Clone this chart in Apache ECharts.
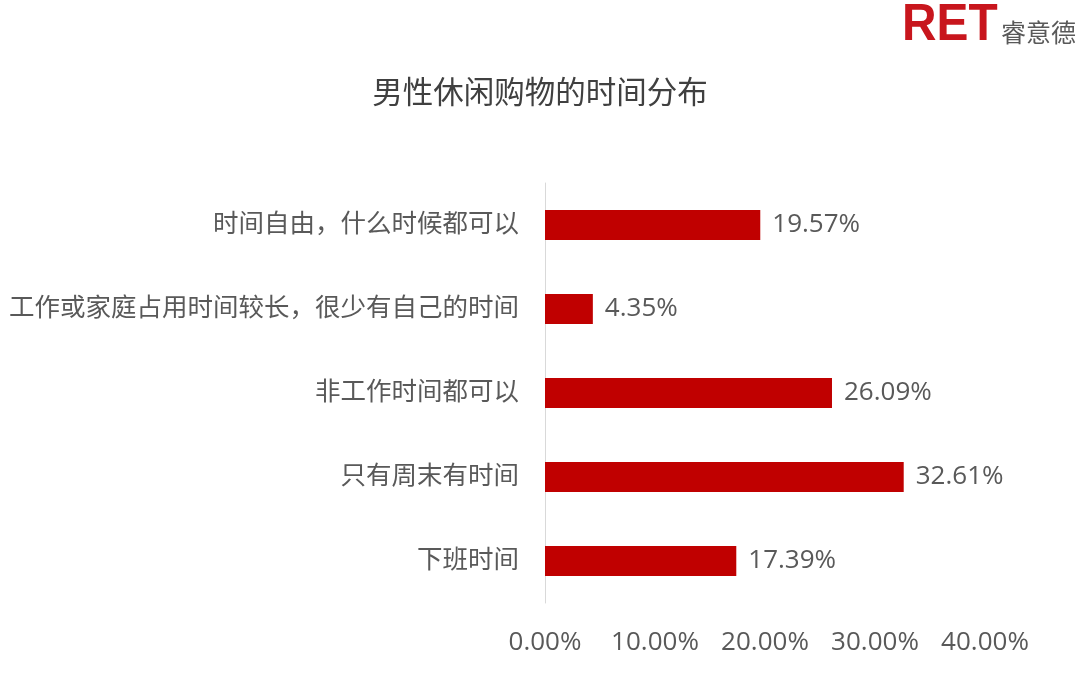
<!DOCTYPE html>
<html>
<head>
<meta charset="utf-8">
<script src="https://cdn.jsdelivr.net/npm/echarts@6/dist/echarts.min.js"></script>
<style>
html,body{margin:0;padding:0;background:#fff;}
#chart{width:1080px;height:675px;}
</style>
</head>
<body>
<div id="chart"></div>
<script>
var titleText = '男性休闲购物的时间分布';
var categories = ['时间自由，什么时候都可以', '工作或家庭占用时间较长，很少有自己的时间', '非工作时间都可以', '只有周末有时间', '下班时间'];
var values = [19.57, 4.35, 26.09, 32.61, 17.39];
var tickValues = [0, 10, 20, 30, 40];

var FONT = '"Open Sans", "Noto Sans CJK SC", sans-serif';
var chart = echarts.init(document.getElementById('chart'), null, {renderer: 'canvas'});
chart.setOption({
  backgroundColor: '#ffffff',
  animation: false,
  title: {
    text: titleText,
    left: 'center',
    top: 74,
    textStyle: {fontFamily: FONT, fontSize: 30.5, fontWeight: 'normal', color: '#404040'}
  },
  graphic: [
    {type: 'text', left: 902, top: 0, scaleX: 0.92,
     style: {text: 'RET', fontFamily: '"Liberation Sans", Arial, sans-serif', fontWeight: 'bold', fontSize: 52, fill: '#c8161d'}},
    {type: 'text', left: 1001, top: 20,
     style: {text: '睿意德', fontFamily: '"Noto Sans CJK SC", sans-serif', fontSize: 25, fill: '#595959'}}
  ],
  grid: {left: 545, top: 183, width: 440, height: 420, containLabel: false},
  xAxis: {
    type: 'value',
    min: tickValues[0],
    max: tickValues[tickValues.length - 1],
    interval: tickValues[1] - tickValues[0],
    axisLine: {show: false},
    axisTick: {show: false},
    splitLine: {show: false},
    axisLabel: {
      margin: 27,
      fontFamily: FONT, fontSize: 26, color: '#595959',
      formatter: function (v) { return v.toFixed(2) + '%'; }
    }
  },
  yAxis: {
    type: 'category',
    inverse: true,
    data: categories,
    axisLine: {show: true, lineStyle: {color: '#d9d9d9', width: 1}},
    axisTick: {show: false},
    axisLabel: {margin: 26, fontFamily: FONT, fontSize: 25.5, color: '#595959'}
  },
  series: [{
    type: 'bar',
    data: values,
    barWidth: 30,
    itemStyle: {color: '#c00000'},
    label: {
      show: true,
      position: 'right',
      distance: 12,
      fontFamily: FONT, fontSize: 26, color: '#595959',
      formatter: function (p) { return p.value.toFixed(2) + '%'; }
    }
  }]
});
</script>
</body>
</html>
